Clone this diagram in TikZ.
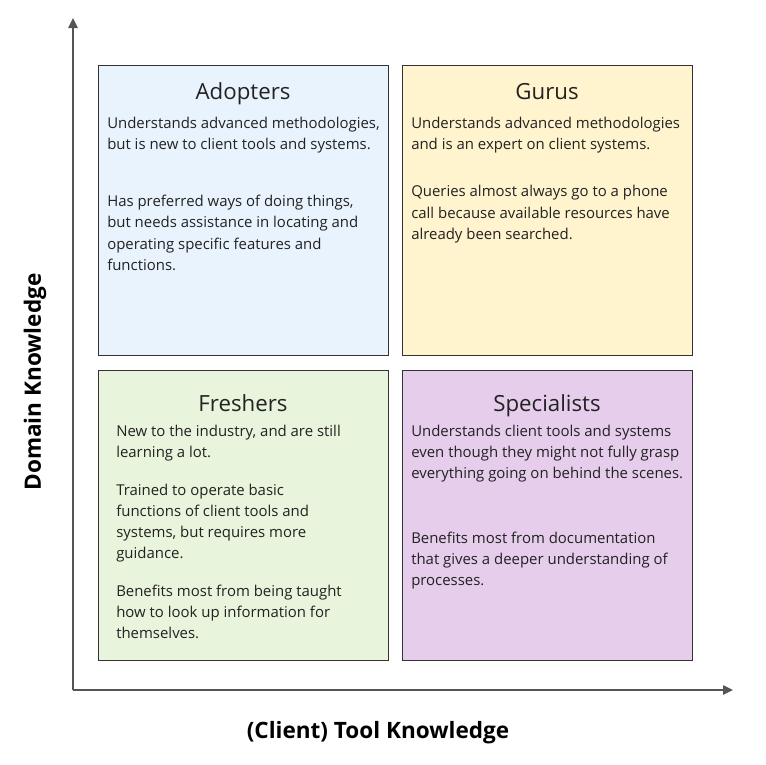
\documentclass[tikz,border=0pt]{standalone}
\usepackage{fontspec}
\setmainfont{Open Sans}
\usetikzlibrary{arrows.meta}
\definecolor{cblue}{HTML}{E8F3FE}
\definecolor{cyellow}{HTML}{FFF4CD}
\definecolor{cgreen}{HTML}{E8F4DB}
\definecolor{cpurple}{HTML}{E6CDEC}
\definecolor{cborder}{HTML}{333333}
\definecolor{caxis}{HTML}{555555}
\definecolor{ctext}{HTML}{222222}
\tikzset{
  quad/.style={draw=cborder, line width=0.9pt, minimum width=217.5pt, minimum height=217.5pt, anchor=north west, inner sep=0pt},
  ttl/.style={anchor=base, inner sep=0pt, text=ctext, font=\fontsize{16.7pt}{19pt}\selectfont},
  body/.style={anchor=base west, inner sep=0pt, text=ctext, font=\fontsize{11.2pt}{15.75pt}\selectfont},
  axlab/.style={inner sep=0pt, text=black, font=\fontsize{16.9pt}{20pt}\selectfont\bfseries},
  axis/.style={draw=caxis, line width=1.1pt, -{Triangle[length=7.5pt,width=7pt]}},
}
\begin{document}
\begin{tikzpicture}[x=0.75pt,y=-0.75pt]
\useasboundingbox (0,0) rectangle (766,764);
% boxes
\node[quad, fill=cblue] (adopters) at (98,65) {};
\node[quad, fill=cyellow] (gurus) at (402,65) {};
\node[quad, fill=cgreen] (freshers) at (98,370) {};
\node[quad, fill=cpurple] (specialists) at (402,370) {};
% axes
\coordinate (origin) at (73,690);
\coordinate (ytop) at (73,18);
\coordinate (xend) at (733,690);
\draw[axis] (origin) -- (ytop);
\draw[axis] (origin) -- (xend);
\node[axlab, rotate=90] (ylab) at (35,382) {Domain Knowledge};
\node[axlab] (xlab) at (378,733) {(Client) Tool Knowledge};
% Adopters
\node[ttl] (adT) at (243,99) {Adopters};
\node[body] (ad1) at (107,128) {Understands advanced methodologies,};
\node[body] (ad2) at (107,149) {but is new to client tools and systems.};
\node[body] (ad3) at (107,206) {Has preferred ways of doing things,};
\node[body] (ad4) at (107,227) {but needs assistance in locating and};
\node[body] (ad5) at (107,249) {operating specific features and};
\node[body] (ad6) at (107,270) {functions.};
% Gurus
\node[ttl] (guT) at (547,99) {Gurus};
\node[body] (gu1) at (411,128) {Understands advanced methodologies};
\node[body] (gu2) at (411,149) {and is an expert on client systems.};
\node[body] (gu3) at (411,196) {Queries almost always go to a phone};
\node[body] (gu4) at (411,218) {call because available resources have};
\node[body] (gu5) at (411,239) {already been searched.};
% Freshers
\node[ttl] (frT) at (243,411) {Freshers};
\node[body] (fr1) at (116,436) {New to the industry, and are still};
\node[body] (fr2) at (116,457) {learning a lot.};
\node[body] (fr3) at (116,495) {Trained to operate basic};
\node[body] (fr4) at (116,516) {functions of client tools and};
\node[body] (fr5) at (116,537) {systems, but requires more};
\node[body] (fr6) at (116,558) {guidance.};
\node[body] (fr7) at (116,596) {Benefits most from being taught};
\node[body] (fr8) at (116,617) {how to look up information for};
\node[body] (fr9) at (116,638) {themselves.};
% Specialists
\node[ttl] (spT) at (547,411) {Specialists};
\node[body] (sp1) at (411,436) {Understands client tools and systems};
\node[body] (sp2) at (411,457) {even though they might not fully grasp};
\node[body] (sp3) at (411,478) {everything going on behind the scenes.};
\node[body] (sp4) at (411,543) {Benefits most from documentation};
\node[body] (sp5) at (411,564) {that gives a deeper understanding of};
\node[body] (sp6) at (411,585) {processes.};
\end{tikzpicture}
\end{document}
